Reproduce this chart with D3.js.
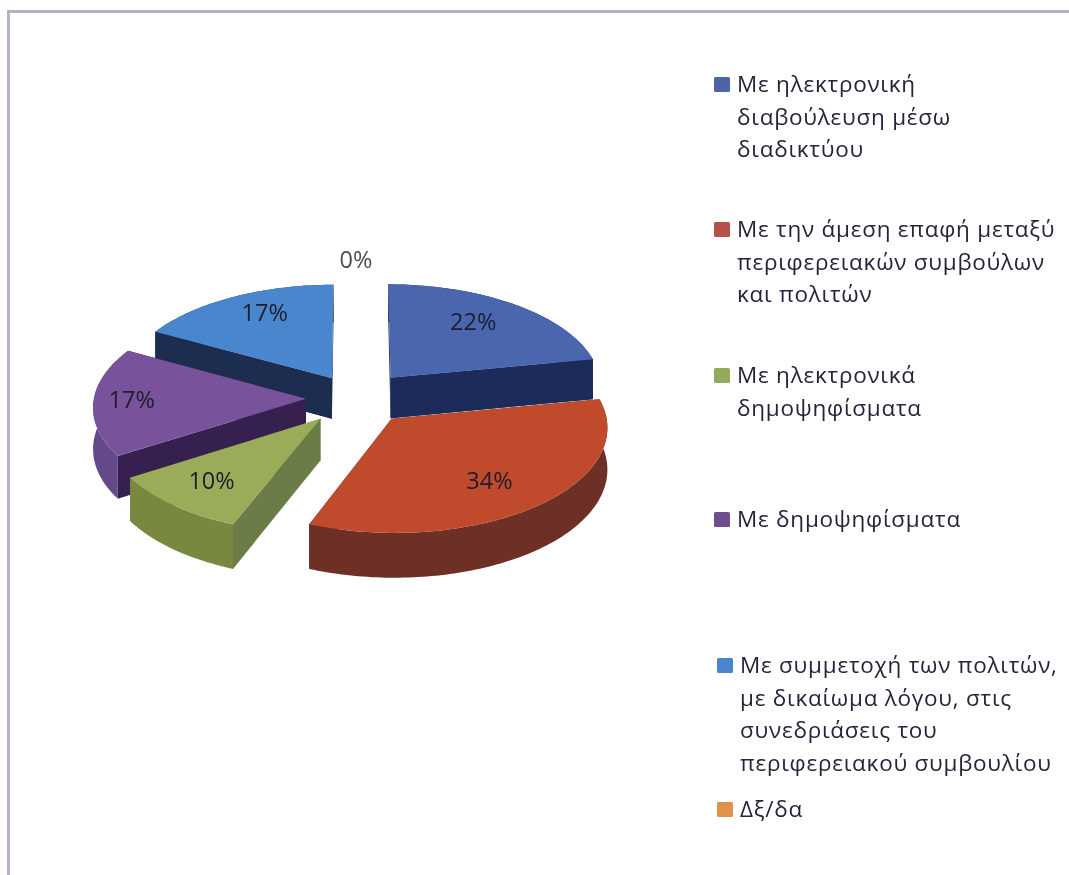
<!DOCTYPE html>
<meta charset="utf-8">
<style>
  body { margin: 0; background: #fff; }
  svg { filter: blur(0.6px); }
  text { font-family: "Open Sans", "Noto Sans", sans-serif; fill: #23253a; }
  .pct { font-size: 23.5px; text-anchor: middle; dominant-baseline: middle; fill: #1c1d2e; }
  .pct.zero { fill: #4a4c58; }
  .legend text { font-size: 22.5px; letter-spacing: 0.75px; }
</style>
<svg width="1069" height="875"></svg>
<script src="https://d3js.org/d3.v7.min.js"></script>
<script>
  // Data
  var categories = [
    ["Με ηλεκτρονική", "διαβούλευση μέσω", "διαδικτύου"],
    ["Με την άμεση επαφή μεταξύ", "περιφερειακών συμβούλων", "και πολιτών"],
    ["Με ηλεκτρονικά", "δημοψηφίσματα"],
    ["Με δημοψηφίσματα"],
    ["Με συμμετοχή των πολιτών,", "με δικαίωμα λόγου, στις", "συνεδριάσεις του", "περιφερειακού συμβουλίου"],
    ["Δξ/δα"]
  ];
  var values = [22, 34, 10, 17, 17, 0];

  var topColors = ["#4a66ae", "#bf4a2c", "#9bac58", "#78529a", "#4a86cd", "#e08b3e"];
  var rimColors = ["#20305f", "#6e2f27", "#78893f", "#63488a", "#1e3358", "#a0622a"];
  var wallColors = ["#1d2b5a", "#6e2f27", "#6b7c46", "#35204f", "#1c2d50", "#a0622a"];
  var legendColors = ["#4f63a8", "#b5504a", "#94a95c", "#6d4f8f", "#4a86cd", "#e0914a"];

  // Layout
  var legendX = [714, 714, 714, 714, 717, 717];
  var legendY = [84, 229, 375, 519, 665, 809];
  var explodeBy = [55, 55, 55, 50, 48, 50];
  var labelDist = [0.70, 0.72, 0.75, 0.82, 0.75, 1.23];
  var labelTurn = [-3, 3, 0, 0, 3.5, 0];
  var drawOrder = [4, 0, 3, 2, 1];

  var svg = d3.select("svg");

  // Frame of the scanned picture
  svg.append("path")
    .attr("d", "M8.5,875V11.5H1069")
    .attr("fill", "none")
    .attr("stroke", "#b7b0c6")
    .attr("stroke-width", 3);

  // Simple perspective: y axis of the pie plane points to the viewer
  var cx = 356, cy = 398, R = 212, tilt = 0.485, depth = 41, persp = 0.000336;

  function project(px, py, z) {
    var w = 1 / (1 - persp * py);
    return [cx + px * w, cy + (py * tilt + z) * w];
  }

  // Point on a slice at angle a and distance r, with the slice pulled out along its mid angle
  function point(d, a, r, z) {
    var mid = (d.startAngle + d.endAngle) / 2;
    var e = explodeBy[d.index];
    var px = e * Math.sin(mid) + r * Math.sin(a);
    var py = -e * Math.cos(mid) - r * Math.cos(a);
    return project(px, py, z);
  }

  function arcPoints(d, z) {
    var n = Math.max(2, Math.ceil((d.endAngle - d.startAngle) / 0.02));
    return d3.range(n + 1).map(function (i) {
      return point(d, d.startAngle + (d.endAngle - d.startAngle) * i / n, R, z);
    });
  }

  var pie = d3.pie().sort(null).startAngle(0).endAngle(2 * Math.PI);
  var slices = pie(values);
  var line = d3.line();

  var chart = svg.append("g").attr("class", "pie");

  drawOrder.forEach(function (i) {
    var d = slices[i];
    var g = chart.append("g");
    var a0 = d.startAngle, a1 = d.endAngle;

    // Radial walls, the one nearer the viewer last
    var walls = [a0, a1].sort(function (p, q) {
      return Math.cos(q) - Math.cos(p);
    });
    walls.forEach(function (a) {
      g.append("path")
        .attr("fill", wallColors[i])
        .attr("d", line([
          point(d, a, 0, 0), point(d, a, R, 0),
          point(d, a, R, depth), point(d, a, 0, depth)
        ]) + "Z");
    });

    // Outer rim
    var rimTop = arcPoints(d, 0);
    var rimBottom = arcPoints(d, depth).reverse();
    g.append("path")
      .attr("fill", rimColors[i])
      .attr("d", line(rimTop.concat(rimBottom)) + "Z");

    // Radial wall facing the viewer goes over the rim
    var front = walls[1];
    if (Math.cos(front) > -0.3) {
      g.append("path")
        .attr("fill", wallColors[i])
        .attr("d", line([
          point(d, front, 0, 0), point(d, front, R, 0),
          point(d, front, R, depth), point(d, front, 0, depth)
        ]) + "Z");
    }

    // Top face
    g.append("path")
      .attr("fill", topColors[i])
      .attr("d", line([point(d, a0, 0, 0)].concat(arcPoints(d, 0))) + "Z");
  });

  // Percent labels
  chart.selectAll("text.pct")
    .data(slices)
    .join("text")
    .attr("class", function (d) { return d.value === 0 ? "pct zero" : "pct"; })
    .attr("transform", function (d, i) {
      var mid = (d.startAngle + d.endAngle) / 2 + labelTurn[i] * Math.PI / 180;
      var p = point(d, mid, labelDist[i] * R, 0);
      return "translate(" + p[0] + "," + p[1] + ")";
    })
    .text(function (d) { return d.value + "%"; });

  // Legend
  var legend = svg.append("g").attr("class", "legend")
    .selectAll("g")
    .data(categories)
    .join("g")
    .attr("transform", function (d, i) { return "translate(" + legendX[i] + "," + legendY[i] + ")"; });

  legend.append("rect")
    .attr("x", 0)
    .attr("y", -7)
    .attr("width", 16)
    .attr("height", 15)
    .attr("rx", 1.5)
    .attr("fill", function (d, i) { return legendColors[i]; });

  legend.each(function (lines) {
    d3.select(this).selectAll("text")
      .data(lines)
      .join("text")
      .attr("x", 23)
      .attr("y", function (d, j) { return 8 + j * 32.5; })
      .text(function (d) { return d; });
  });
</script>
